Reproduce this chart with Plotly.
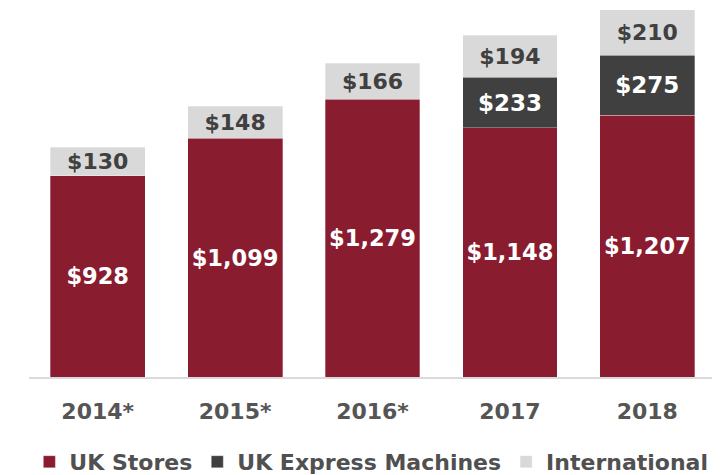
import plotly.graph_objects as go

years = ["2014*", "2015*", "2016*", "2017", "2018"]
uk_stores = [928, 1099, 1279, 1148, 1207]
uk_express = [None, None, None, 233, 275]
international = [130, 148, 166, 194, 210]

def fmt(vals):
    return ["" if v is None else "${:,}".format(v) for v in vals]

FONT = "DejaVu Sans"
fig = go.Figure()
fig.add_bar(name="UK Stores", x=years, y=uk_stores, marker_color="#8A1C2F",
            text=fmt(uk_stores), textposition="inside", insidetextanchor="middle",
            constraintext="none",
            textfont=dict(family=FONT, size=22.5, color="white", weight=700))
fig.add_bar(name="UK Express Machines", x=years, y=uk_express, marker_color="#404040",
            text=fmt(uk_express), textposition="inside", insidetextanchor="middle",
            constraintext="none",
            textfont=dict(family=FONT, size=23, color="white", weight=700))
fig.add_bar(name="International", x=years, y=international, marker_color="#D9D9D9",
            text=fmt(international), textposition="inside", insidetextanchor="middle",
            constraintext="none",
            textfont=dict(family=FONT, size=22, color="#404040", weight=700))

fig.update_traces(marker_line_width=0.6, marker_line_color="rgba(255,255,255,0.5)")
fig.update_layout(
    barmode="stack", bargap=0.31,
    width=712, height=467,
    margin=dict(l=21, r=4, t=0, b=98),
    plot_bgcolor="white", paper_bgcolor="white",
    showlegend=True,
    legend=dict(orientation="h", xref="container", yref="container",
                x=0.03, xanchor="left", y=0.028, yanchor="middle",
                traceorder="normal",
                font=dict(family=FONT, size=22, color="#505050", weight=700),
                itemwidth=30, tracegroupgap=0),
    xaxis=dict(showline=True, linecolor="#DADADA", linewidth=2, ticks="",
               automargin=False, ticklabelstandoff=14,
               tickfont=dict(family=FONT, size=22, color="#555555", weight=700)),
    yaxis=dict(range=[0, 1700], visible=False, showgrid=False, automargin=False),
)
fig.write_html("out.html")
